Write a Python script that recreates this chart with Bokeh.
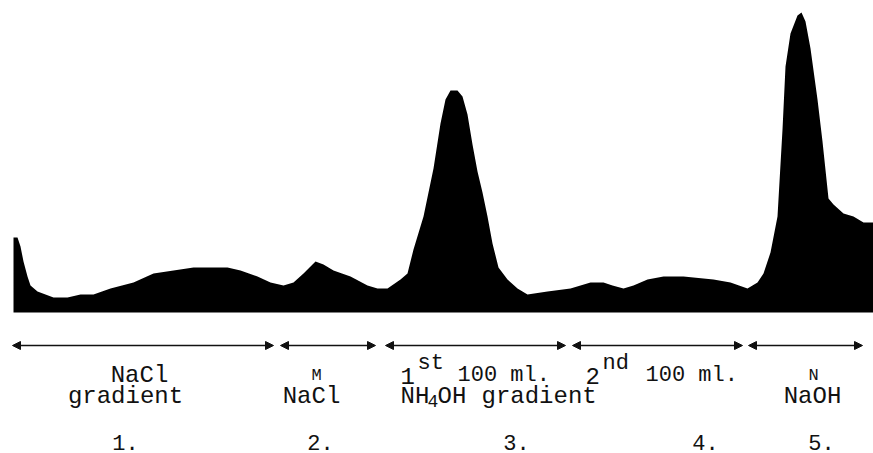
from bokeh.plotting import figure
from bokeh.models import Range1d, Arrow, NormalHead, ColumnDataSource
from bokeh.core.properties import value
from bokeh.embed import file_html
from bokeh.resources import INLINE

# Elution profile: effluent position (tube scale) and optical density
tube = [13, 13, 17, 20, 23, 27, 30, 37, 53, 67, 80, 93, 110, 133, 153, 173, 193,
        213, 227, 240, 257, 270, 283, 293, 303, 315, 323, 333, 350, 367, 377, 387,
        400, 407, 413, 423, 433, 440, 445, 450, 457, 462, 467, 472, 477, 482, 487,
        492, 498, 507, 517, 527, 547, 570, 590, 603, 612, 623, 633, 647, 663, 683,
        713, 730, 747, 757, 763, 770, 777, 782, 785, 790, 797, 801, 805, 810, 817,
        822, 828, 833, 843, 853, 863, 873]
density = [0.00, 0.25, 0.25, 0.22, 0.17, 0.12, 0.09, 0.07, 0.05, 0.05, 0.06, 0.06,
           0.08, 0.10, 0.13, 0.14, 0.15, 0.15, 0.15, 0.14, 0.12, 0.10, 0.09, 0.10,
           0.13, 0.17, 0.16, 0.14, 0.12, 0.09, 0.08, 0.08, 0.11, 0.13, 0.21, 0.32,
           0.48, 0.63, 0.71, 0.74, 0.74, 0.72, 0.66, 0.56, 0.47, 0.40, 0.32, 0.23,
           0.15, 0.11, 0.08, 0.06, 0.07, 0.08, 0.10, 0.10, 0.09, 0.08, 0.09, 0.11,
           0.12, 0.12, 0.11, 0.10, 0.08, 0.10, 0.13, 0.20, 0.32, 0.61, 0.82, 0.93,
           0.99, 1.00, 0.97, 0.88, 0.71, 0.57, 0.38, 0.36, 0.33, 0.32, 0.30, 0.30]

# Eluent fractions: where each eluent starts and stops
fraction_start = [12, 280, 385, 572, 748]
fraction_end = [273, 375, 565, 742, 862]
fraction_numbers = ["1.", "2.", "3.", "4.", "5."]

FONT = value("Liberation Mono")
INK = "#111111"
MAIN = "24px"

p = figure(width=873, height=453, x_range=Range1d(0, 873), y_range=Range1d(-0.47, 1.04),
           toolbar_location=None, output_backend="svg", min_border=0)
p.axis.visible = False
p.grid.visible = False
p.outline_line_color = None
p.background_fill_color = "white"
p.border_fill_color = "white"

p.varea(x=tube, y1=0, y2=density, fill_color="black")

# Fraction arrows
arrow_y = -0.11
arr_src = ColumnDataSource(dict(x0=fraction_start, x1=fraction_end,
                                y0=[arrow_y] * len(fraction_start),
                                y1=[arrow_y] * len(fraction_start)))
p.add_layout(Arrow(source=arr_src, x_start="x0", x_end="x1", y_start="y0", y_end="y1",
                   line_color=INK, line_width=1.3,
                   start=NormalHead(size=8, fill_color=INK, line_color=INK),
                   end=NormalHead(size=8, fill_color=INK, line_color=INK)))

PX = 1 / 300.0
ROW1 = -63 * PX
ROW2 = -84 * PX
ROW3 = -130 * PX


def label(x, y, txt, size=MAIN, align="center", baseline="alphabetic"):
    p.text(x=[x], y=[y], text=[txt], text_font=FONT, text_font_size=size,
           text_align=align, text_baseline=baseline, text_color=INK)


# Fraction 1
label(139, ROW1, "NaCl")
label(125, ROW2, "gradient")
# Fraction 2
label(316, ROW1, "M", size="17px")
label(311, ROW2, "NaCl")
# Fractions 3 and 4, typed as one line
label(400, ROW1, "1", align="left")
label(417, ROW1 + 12 * PX, "st", size="22px", align="left")
label(457, ROW1, "100 ml.", size="22px", align="left")
label(585, ROW1, "2", align="left")
label(602, ROW1 + 12 * PX, "nd", size="22px", align="left")
label(645, ROW1, "100 ml.", size="22px", align="left")
label(400, ROW2, "NH", align="left")
label(427, ROW2 - 4 * PX, "4", size="18px", align="left")
label(437, ROW2, "OH", align="left")
label(481, ROW2, "gradient", align="left")
# Fraction 5
label(813, ROW1, "N", size="17px")
label(812, ROW2, "NaOH")

# Fraction numbers
num_x = [125, 320, 516, 705, 821]
for nx, num in zip(num_x, fraction_numbers):
    label(nx, ROW3, num, size="22px")

open("out.html", "w").write(file_html(p, INLINE))
